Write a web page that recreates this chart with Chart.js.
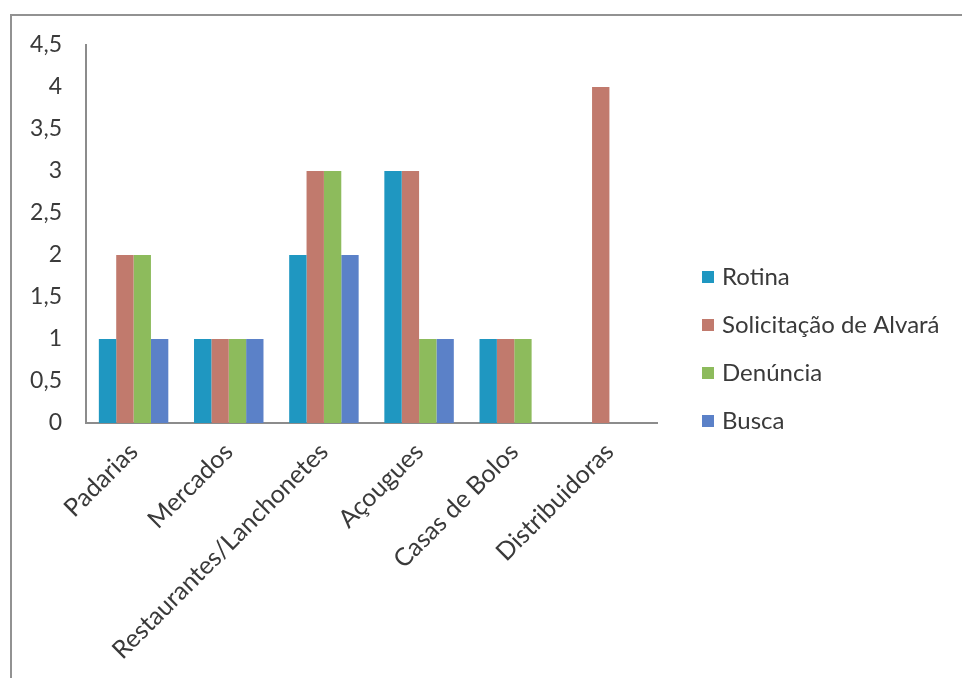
<!DOCTYPE html>
<html>
<head>
<meta charset="utf-8">
<script src="https://cdn.jsdelivr.net/npm/chart.js@4"></script>
<style>
  html, body { margin: 0; padding: 0; background: #fff; }
  #frame { position: absolute; left: 10px; top: 14px; width: 960px; height: 680px;
           border-top: 2px solid #929292; border-left: 2px solid #929292; }
  #canvas { position: absolute; left: 0; top: 0; }
</style>
</head>
<body>
<div id="frame"></div>
<canvas id="canvas" width="962" height="678"></canvas>
<script>
// categorias e séries
const categories = ['Padarias', 'Mercados', 'Restaurantes/Lanchonetes', 'Açougues', 'Casas de Bolos', 'Distribuidoras'];
const seriesNames = ['Rotina', 'Solicitação de Alvará', 'Denúncia', 'Busca'];
const rotina      = [1, 1, 2, 3, 1, 0];
const solicitacao = [2, 1, 3, 3, 1, 4];
const denuncia    = [2, 1, 3, 1, 1, 0];
const busca       = [1, 1, 2, 1, 0, 0];
const yTicks = [0, 0.5, 1, 1.5, 2, 2.5, 3, 3.5, 4, 4.5];

const colors = ['#1f97c1', '#c17a6d', '#8dbb5c', '#5b81c8'];
const font = "Lato, 'Open Sans', sans-serif";

// legenda desenhada à direita (como no Excel)
const sideLegend = {
    id: 'sideLegend',
    afterDraw(chart) {
        const ctx = chart.ctx;
        ctx.save();
        ctx.font = '24px ' + font;
        ctx.textBaseline = 'middle';
        chart.data.datasets.forEach((ds, i) => {
            const y = 277 + i * 48;
            ctx.fillStyle = ds.backgroundColor;
            ctx.fillRect(702, y - 6, 12, 12);
            ctx.fillStyle = '#3a3a3a';
            ctx.fillText(ds.label, 722, y);
        });
        ctx.restore();
    }
};

const ctx = document.getElementById('canvas').getContext('2d');
new Chart(ctx, {
    type: 'bar',
    data: {
        labels: categories,
        datasets: [rotina, solicitacao, denuncia, busca].map((d, i) => ({
            label: seriesNames[i],
            data: d,
            backgroundColor: colors[i],
            borderWidth: 0,
            barPercentage: 1.0,
            categoryPercentage: 0.73,
        })),
    },
    options: {
        responsive: false,
        animation: false,
        layout: { padding: { top: 45, right: 305, left: 0, bottom: 0 } },
        plugins: {
            legend: { display: false },
            tooltip: { enabled: false },
        },
        scales: {
            x: {
                grid: { display: false, drawTicks: false },
                border: { display: true, color: '#8c8c8c', width: 2 },
                ticks: {
                    color: '#3a3a3a',
                    font: { family: font, size: 25 },
                    minRotation: 45,
                    maxRotation: 45,
                    padding: 14,
                    autoSkip: false,
                },
                afterFit: (scale) => { scale.height = 678 - 423; },
            },
            y: {
                min: 0,
                max: 4.5,
                afterBuildTicks: (scale) => { scale.ticks = yTicks.map(v => ({ value: v })); },
                grid: { display: false, drawTicks: false },
                border: { display: true, color: '#8c8c8c', width: 2 },
                ticks: {
                    color: '#3a3a3a',
                    font: { family: font, size: 23 },
                    padding: 24,
                    callback: (v) => String(v).replace('.', ','),
                },
                afterFit: (scale) => { scale.width = 86; },
            },
        },
    },
    plugins: [sideLegend],
});
</script>
</body>
</html>
